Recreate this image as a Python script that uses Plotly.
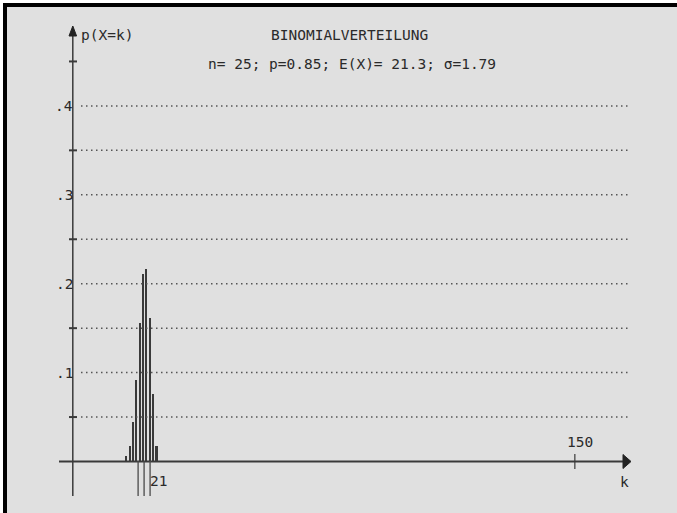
import plotly.graph_objects as go

# Binomial distribution n=25, p=0.85
n = 25
p = 0.85
mean = 21.3
sigma = 1.79
k_values = [16, 17, 18, 19, 20, 21, 22, 23, 24, 25]
probabilities = [0.0067, 0.0175, 0.044, 0.092, 0.156, 0.211, 0.217, 0.161, 0.076, 0.017]
y_tick_labels = [".1", ".2", ".3", ".4"]
y_tick_values = [0.1, 0.2, 0.3, 0.4]
x_tick_value = 150

W, H = 677, 513
K0_PX, K_PX = 72.8, 3.347      # pixel of k=0, pixels per unit of k
Y0_PX, Y_PX = 461.5, 889.0     # pixel of p=0, pixels per unit of p


def kx(px):
    return (px - K0_PX) / K_PX


def py(pxy):
    return (Y0_PX - pxy) / Y_PX


def fx(px):
    return px / W


def fy(pxy):
    return 1 - pxy / H


INK = "#3a3a3a"
TEXT = "#2a2a2a"
BG = "#e0e0e0"
FONT = dict(family="DejaVu Sans Mono", size=14.5, color=TEXT)

fig = go.Figure()

# probability bars
fig.add_trace(go.Bar(
    x=k_values, y=probabilities, width=0.62,
    marker=dict(color=INK, line=dict(width=0)),
    showlegend=False, hoverinfo="x+y",
))

shapes = []
# frame and background
shapes.append(dict(type="rect", xref="paper", yref="paper", x0=fx(3), x1=fx(W + 5),
                   y0=fy(3), y1=fy(H + 5), fillcolor="black", line=dict(width=0), layer="below"))
shapes.append(dict(type="rect", xref="paper", yref="paper", x0=fx(7), x1=fx(W + 5),
                   y0=fy(7), y1=fy(H + 5), fillcolor=BG, line=dict(width=0), layer="below"))

# dotted grid lines every 0.05
for i in range(1, 9):
    v = 0.05 * i
    shapes.append(dict(type="line", x0=kx(81), x1=kx(630), y0=v, y1=v,
                       line=dict(color="#555555", width=1.5, dash="1.5px,3.5px")))

# minor ticks on y axis at the in-between steps
for v in [0.05, 0.15, 0.25, 0.35, 0.45]:
    shapes.append(dict(type="line", x0=kx(69), x1=kx(77), y0=v, y1=v,
                       line=dict(color=INK, width=2)))

# y axis with arrow
shapes.append(dict(type="line", x0=0, x1=0, y0=py(496), y1=py(34),
                   line=dict(color=INK, width=1.5)))
shapes.append(dict(type="path",
                   path=f"M {kx(K0_PX - 3.8)} {py(36)} L {kx(K0_PX)} {py(26)} L {kx(K0_PX + 3.8)} {py(36)} Z",
                   fillcolor="#222222", line=dict(color="#222222", width=1)))

# x axis with arrow
shapes.append(dict(type="line", x0=kx(59), x1=kx(624), y0=0, y1=0,
                   line=dict(color=INK, width=2.2)))
shapes.append(dict(type="path",
                   path=f"M {kx(623)} {py(Y0_PX - 7)} L {kx(631)} 0 L {kx(623)} {py(Y0_PX + 7)} Z",
                   fillcolor="#222222", line=dict(color="#222222", width=1)))

# tick at k = 150
shapes.append(dict(type="line", x0=x_tick_value, x1=x_tick_value, y0=py(454), y1=py(469),
                   line=dict(color=INK, width=1.2)))

# mean and one standard deviation either side
for v in [mean - sigma, mean, mean + sigma]:
    shapes.append(dict(type="line", x0=v, x1=v, y0=py(496), y1=py(Y0_PX - 0.5),
                       line=dict(color="#4a4a4a", width=1.3)))

annotations = []
for lab, v in zip(y_tick_labels, y_tick_values):
    annotations.append(dict(x=kx(74.5), y=v, text=lab, showarrow=False,
                            xanchor="right", yanchor="middle", font=FONT))

annotations.append(dict(x=x_tick_value, y=py(442), text=str(x_tick_value), showarrow=False,
                        xanchor="center", yanchor="middle", xshift=5, font=FONT))
annotations.append(dict(x=kx(148), y=py(481), text=str(int(mean)), showarrow=False,
                        xanchor="left", yanchor="middle", font=FONT))
annotations.append(dict(x=kx(624), y=py(482), text="k", showarrow=False,
                        xanchor="center", yanchor="middle", font=FONT))
annotations.append(dict(x=fx(79), y=fy(35), xref="paper", yref="paper", text="p(X=k)",
                        showarrow=False, xanchor="left", yanchor="middle", font=FONT))
annotations.append(dict(x=fx(349.5), y=fy(35.5), xref="paper", yref="paper",
                        text="BINOMIALVERTEILUNG", showarrow=False,
                        xanchor="center", yanchor="middle", font=FONT))
annotations.append(dict(x=fx(206), y=fy(64), xref="paper", yref="paper",
                        text=f"n= {n}; p={p}; E(X)= {mean}; σ={sigma}", showarrow=False,
                        xanchor="left", yanchor="middle", font=FONT))

fig.update_layout(
    width=W, height=H,
    margin=dict(l=0, r=0, t=0, b=0),
    paper_bgcolor="white",
    plot_bgcolor="rgba(0,0,0,0)",
    xaxis=dict(range=[kx(0), kx(W)], visible=False, fixedrange=True),
    yaxis=dict(range=[py(H), py(0)], visible=False, fixedrange=True),
    shapes=shapes,
    annotations=annotations,
    bargap=0,
)

fig.write_html("out.html", config=dict(displayModeBar=False))
